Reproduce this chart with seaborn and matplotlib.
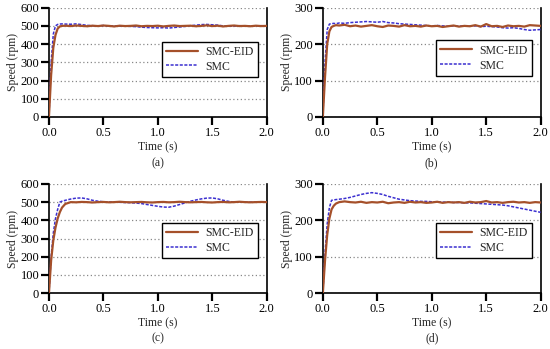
import numpy as np
import pandas as pd
import matplotlib
matplotlib.use("Agg")
import matplotlib.pyplot as plt
import seaborn as sns

# ---------------------------------------------------------
# DATA
# ---------------------------------------------------------
time_s = [0.00, 0.02, 0.04, 0.06, 0.08, 0.10, 0.12, 0.15, 0.20, 0.25,
          0.30, 0.35, 0.40, 0.45, 0.50, 0.55, 0.60, 0.65, 0.70, 0.75,
          0.80, 0.85, 0.90, 0.95, 1.00, 1.05, 1.10, 1.15, 1.20, 1.25,
          1.30, 1.35, 1.40, 1.45, 1.50, 1.55, 1.60, 1.65, 1.70, 1.75,
          1.80, 1.85, 1.90, 1.95, 2.00]

eid_a = [0, 230, 380, 450, 485, 497, 500, 501, 499, 502,
         500, 498, 501, 499, 502, 500, 497, 501, 499, 500,
         502, 498, 500, 499, 501, 497, 500, 502, 499, 500,
         501, 498, 500, 503, 499, 501, 497, 500, 502, 499,
         500, 498, 501, 499, 500]
smc_a = [0, 300, 455, 500, 508, 510, 511, 510, 509, 511,
         507, 503, 501, 500, 502, 499, 500, 498, 499, 497,
         496, 493, 491, 490, 489, 490, 488, 491, 494, 497,
         501, 504, 507, 508, 506, 504, 500, 498, 499, 501,
         500, 499, 500, 501, 500]

eid_b = [0, 110, 200, 235, 247, 250, 252, 251, 253, 249,
         251, 248, 250, 252, 249, 247, 251, 250, 248, 252,
         249, 250, 248, 251, 249, 250, 247, 249, 251, 248,
         250, 249, 252, 248, 255, 249, 250, 247, 251, 249,
         250, 248, 252, 251, 250]
smc_b = [0, 150, 240, 255, 256, 257, 256, 258, 257, 259,
         260, 261, 262, 261, 260, 262, 259, 258, 256, 255,
         254, 253, 252, 251, 250, 251, 250, 249, 250, 249,
         250, 249, 250, 248, 249, 248, 247, 245, 244, 245,
         243, 240, 238, 239, 240]

eid_c = [0, 180, 290, 360, 410, 445, 470, 490, 500, 499,
         501, 500, 498, 500, 501, 499, 500, 502, 500, 499,
         500, 501, 499, 498, 500, 501, 499, 500, 502, 500,
         499, 500, 501, 499, 498, 500, 501, 499, 500, 502,
         500, 499, 500, 501, 500]
smc_c = [0, 200, 330, 410, 460, 500, 505, 510, 517, 522,
         523, 518, 510, 505, 502, 501, 500, 499, 498, 497,
         495, 492, 487, 482, 477, 473, 472, 478, 487, 496,
         505, 512, 518, 522, 523, 518, 510, 504, 500, 499,
         500, 500, 500, 500, 500]

eid_d = [0, 90, 160, 205, 230, 240, 246, 250, 252, 250,
         249, 251, 248, 250, 249, 251, 247, 249, 250, 248,
         251, 249, 250, 248, 249, 251, 248, 250, 249, 250,
         248, 251, 249, 250, 253, 249, 250, 248, 250, 251,
         249, 250, 248, 250, 249]
smc_d = [0, 110, 190, 235, 255, 256, 257, 258, 260, 263,
         267, 271, 274, 276, 274, 271, 266, 262, 258, 256,
         254, 253, 252, 252, 251, 251, 250, 250, 249, 249,
         248, 248, 247, 246, 245, 244, 243, 242, 240, 237,
         234, 231, 228, 225, 222]

panels = [
    ("(a)", eid_a, smc_a, 600),
    ("(b)", eid_b, smc_b, 300),
    ("(c)", eid_c, smc_c, 600),
    ("(d)", eid_d, smc_d, 300),
]

# ---------------------------------------------------------
# STYLE
# ---------------------------------------------------------
sns.set_theme(style="ticks")
plt.rcParams["font.family"] = ["Liberation Serif", "DejaVu Serif"]
plt.rcParams["axes.linewidth"] = 1.2

EID_COLOR = "#A5502A"
SMC_COLOR = "#3B2FD0"

fig = plt.figure(figsize=(5.5, 3.49), dpi=100)

# axes rectangles in figure fraction
rects = [
    [0.089, 0.665, 0.396, 0.313],
    [0.587, 0.665, 0.396, 0.313],
    [0.089, 0.160, 0.396, 0.313],
    [0.587, 0.160, 0.396, 0.313],
]
legend_top = [0.69, 0.70, 0.645, 0.645]
caption_y = [0.533, 0.533, 0.032, 0.032]

for i, (cap, eid, smc, ymax) in enumerate(panels):
    ax = fig.add_axes(rects[i])
    df = pd.DataFrame({"t": time_s, "SMC-EID": eid, "SMC": smc})

    sns.lineplot(data=df, x="t", y="SMC", ax=ax, color=SMC_COLOR,
                 lw=1.1, linestyle=(0, (2, 1)), label="SMC", zorder=3)
    sns.lineplot(data=df, x="t", y="SMC-EID", ax=ax, color=EID_COLOR,
                 lw=1.6, label="SMC-EID", zorder=4)

    ax.set_xlim(0, 2.0)
    ax.set_ylim(0, ymax)
    ax.set_xticks([0.0, 0.5, 1.0, 1.5, 2.0])
    ax.set_xticklabels(["0.0", "0.5", "1.0", "1.5", "2.0"])
    ax.set_yticks(np.arange(0, ymax + 1, 100))

    ax.yaxis.grid(True, linestyle=(0, (1, 2)), color="#888888", lw=0.9)
    ax.set_axisbelow(True)

    for s in ["left", "bottom", "right"]:
        ax.spines[s].set_visible(True)
        ax.spines[s].set_color("black")
    ax.spines["top"].set_visible(False)

    ax.tick_params(axis="both", direction="out", length=5.5, width=1.6,
                   labelsize=9, colors="black", pad=1.5)
    ax.tick_params(axis="y", right=False)

    ax.set_xlabel("Time (s)", fontsize=8.5, labelpad=2)
    ax.set_ylabel("Speed (rpm)", fontsize=8.5, labelpad=1)

    handles, labels = ax.get_legend_handles_labels()
    order = [labels.index("SMC-EID"), labels.index("SMC")]
    leg = ax.legend([handles[k] for k in order], [labels[k] for k in order],
                    loc="upper right", bbox_to_anchor=(0.958, legend_top[i]),
                    fontsize=8.5, frameon=True, fancybox=False,
                    handlelength=2.7, borderpad=0.35, labelspacing=0.25,
                    handletextpad=0.6, borderaxespad=0)
    leg.get_frame().set_edgecolor("black")
    leg.get_frame().set_linewidth(1.0)
    leg.get_frame().set_alpha(1)

    fig.text(rects[i][0] + rects[i][2] / 2, caption_y[i], cap,
             ha="center", va="center", fontsize=8.5)

plt.savefig("out.png", dpi=100)
plt.close()
